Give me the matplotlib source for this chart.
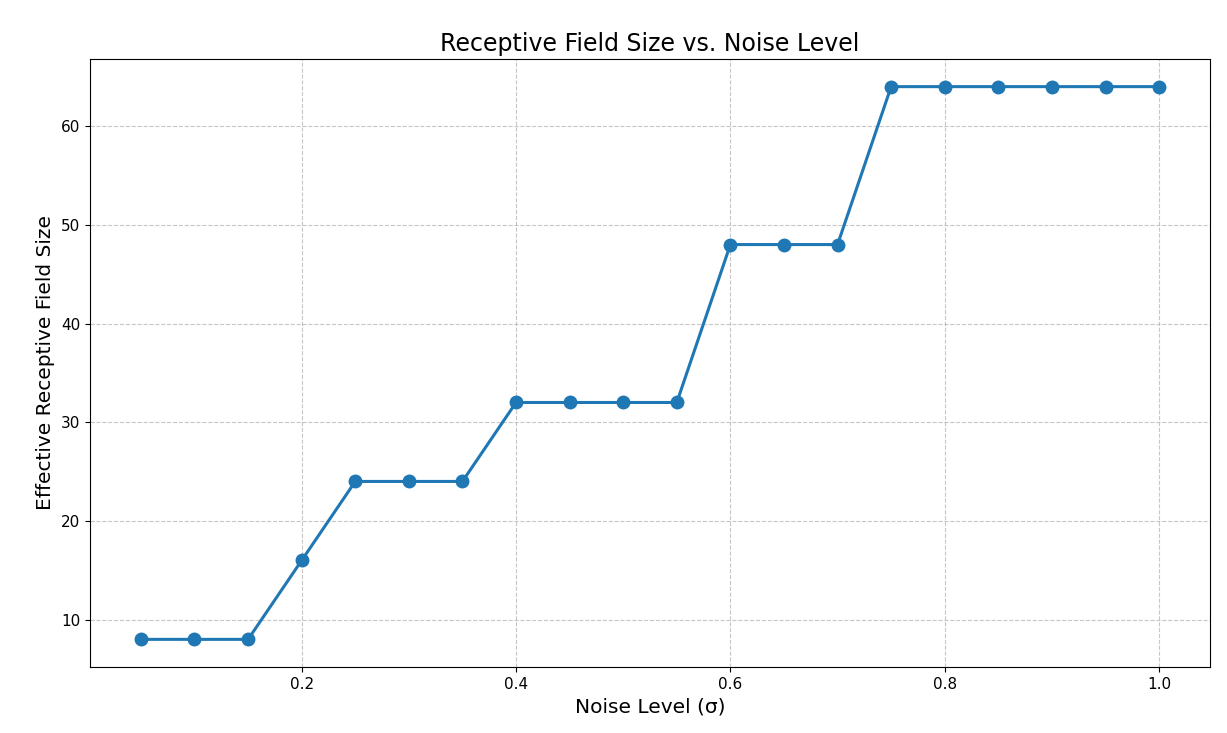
import matplotlib
matplotlib.use("Agg")
import matplotlib.pyplot as plt

noise_levels = [0.05, 0.10, 0.15, 0.20, 0.25, 0.30, 0.35, 0.40, 0.45, 0.50,
                0.55, 0.60, 0.65, 0.70, 0.75, 0.80, 0.85, 0.90, 0.95, 1.00]
field_sizes = [8, 8, 8, 16, 24, 24, 24, 32, 32, 32,
               32, 48, 48, 48, 64, 64, 64, 64, 64, 64]

fig = plt.figure(figsize=(12.27, 7.33), dpi=100)
ax = fig.add_axes([90/1227, 1-667/733, (1210-90)/1227, (667-59)/733])
ax.plot(noise_levels, field_sizes, marker='o', markersize=9, linewidth=2.2, color='#1f77b4')
ax.set_title('Receptive Field Size vs. Noise Level', fontsize=17)
ax.set_xlabel('Noise Level (σ)', fontsize=14.5)
ax.set_ylabel('Effective Receptive Field Size', fontsize=14.5)
ax.tick_params(labelsize=11)
ax.grid(True, linestyle='--', alpha=0.7)
fig.savefig('out.png', dpi=100)
